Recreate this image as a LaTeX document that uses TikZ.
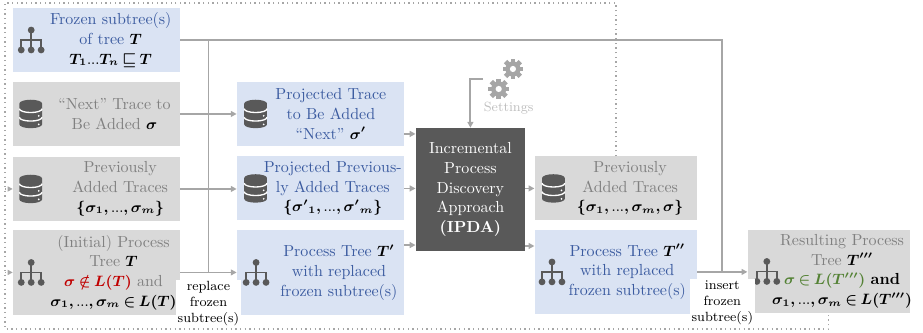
\documentclass[tikz,border=0pt]{standalone}
\usepackage{amsmath,bm}
\usetikzlibrary{arrows.meta,calc}

\definecolor{boxblue}{HTML}{DAE3F3}
\definecolor{txtblue}{HTML}{3B5BA0}
\definecolor{boxgray}{HTML}{D9D9D9}
\definecolor{txtgray}{HTML}{808080}
\definecolor{icongray}{HTML}{595959}
\definecolor{linegray}{HTML}{A6A6A6}
\definecolor{setgray}{HTML}{BFBFBF}
\definecolor{darkred}{HTML}{C00000}
\definecolor{darkgreen}{HTML}{548235}

\newcommand{\clrmath}[2]{{\color{#1}\fontsize{8.7pt}{11.8pt}\selectfont$\thinmuskip=3mu\medmuskip=3mu\thickmuskip=4mu\bm{#2}$}}
\newcommand{\blkmath}[1]{\clrmath{black}{#1}}
\newcommand{\sdots}{{\scriptstyle\ldots}}
\newcommand{\boxfont}{\fontsize{9.6pt}{11.8pt}\selectfont}

\tikzset{
	box/.style={rectangle, inner sep=0pt, minimum width=3.52cm, minimum height=1.35cm},
	bluebox/.style={box, fill=boxblue},
	graybox/.style={box, fill=boxgray},
	btxt/.style={align=center, text=txtblue, inner sep=0pt, font=\boxfont},
	gtxt/.style={align=center, text=txtgray, inner sep=0pt, font=\boxfont},
	conn/.style={draw=linegray, line width=1.1pt},
	arr/.style={conn, -{Triangle[length=3.5pt,width=3.5pt]}},
	dotconn/.style={draw=linegray, line width=0.8pt, dotted},
	dotarr/.style={dotconn, -{Triangle[length=3pt,width=3pt]}},
	lbl/.style={font=\footnotesize, align=center, fill=white, inner sep=1pt},
	treeicon/.pic={
		\draw[icongray, line width=0.9pt] (0,0.21) -- (0,-0.21) (-0.21,-0.21) -- (-0.21,0) -- (0.21,0) -- (0.21,-0.21);
		\fill[icongray] (0,0.21) circle (0.072) (-0.21,-0.21) circle (0.072) (0,-0.21) circle (0.072) (0.21,-0.21) circle (0.072);
	},
	dbicon/.pic={
		\fill[icongray] (-0.24,0.22) -- (-0.24,-0.22) arc[start angle=180, end angle=360, x radius=0.24, y radius=0.08]
			-- (0.24,0.22) arc[start angle=0, end angle=180, x radius=0.24, y radius=0.08] -- cycle;
		\draw[white, line width=0.8pt] (-0.24,0.11) arc[start angle=180, end angle=360, x radius=0.24, y radius=0.08]
			(-0.24,-0.07) arc[start angle=180, end angle=360, x radius=0.24, y radius=0.08];
		\fill[white] (0.17,-0.04) circle (0.02) (0.17,-0.22) circle (0.02);
	},
	gear/.pic={
		\fill[linegray] (0,0) circle (0.16);
		\foreach \a in {0,45,...,315}
			\fill[linegray, rotate=\a] (-0.05,0.1) rectangle (0.05,0.22);
		\fill[white] (0,0) circle (0.065);
	}
}

\begin{document}
\begin{tikzpicture}
	\useasboundingbox (0,0) rectangle (19.47,-7.02);

	\node[bluebox]							(frozen)	at (2.035,-0.844)	{};
	\node[graybox]							(next)		at (2.035,-2.404)	{};
	\node[graybox]							(prevL)		at (2.035,-3.986)	{};
	\node[graybox, minimum height=1.79cm]	(init)		at (2.035,-5.747)	{};
	\node[bluebox]							(projT)		at (6.759,-2.404)	{};
	\node[bluebox]							(projP)		at (6.759,-3.975)	{};
	\node[bluebox, minimum height=1.79cm]	(treeP)		at (6.759,-5.747)	{};
	\node[box, fill=icongray, minimum width=2.30cm, minimum height=2.59cm]	(ipda)	at (9.923,-3.997)	{};
	\node[graybox, minimum width=3.42cm]	(prevR)		at (12.991,-3.975)	{};
	\node[bluebox, minimum width=3.42cm, minimum height=1.77cm]	(treePP)	at (12.991,-5.736)	{};
	\node[graybox, minimum width=3.42cm, minimum height=1.75cm]	(result)	at (17.483,-5.726)	{};

	\pic at ([xshift=0.39cm]frozen.west)	{treeicon};
	\pic at ([xshift=0.38cm]next.west)		{dbicon};
	\pic at ([xshift=0.38cm]prevL.west)		{dbicon};
	\pic at ([xshift=0.39cm]init.west)		{treeicon};
	\pic at ([xshift=0.40cm]projT.west)		{dbicon};
	\pic at ([xshift=0.40cm]projP.west)		{dbicon};
	\pic at ([xshift=0.41cm]treeP.west)		{treeicon};
	\pic at ([xshift=0.40cm]prevR.west)		{dbicon};
	\pic at ([xshift=0.37cm]treePP.west)	{treeicon};
	\pic at ([xshift=0.41cm]result.west)	{treeicon};

	\node[btxt]	(frozen-txt)	at ([xshift=0.30cm]frozen.center)	{Frozen subtree(s)\\of tree \blkmath{T}\\\blkmath{T_1 \sdots T_n \sqsubseteq T}};
	\node[gtxt]	(next-txt)		at ([xshift=0.38cm]next.center)		{``Next'' Trace to\\Be Added \blkmath{\sigma}};
	\node[gtxt]	(prevL-txt)		at ([xshift=0.50cm]prevL.center)	{Previously\\Added Traces\\\blkmath{\{\sigma_1, \sdots, \sigma_m\}}};
	\node[gtxt]	(init-txt)		at ([xshift=0.36cm]init.center)		{(Initial) Process\\Tree \blkmath{T}\\\clrmath{darkred}{\sigma \notin L(T)} and\\\blkmath{\sigma_1, \sdots, \sigma_m \in L(T)}};
	\node[btxt]	(projT-txt)		at ([xshift=0.22cm]projT.center)	{Projected Trace\\to Be Added\\``Next'' \blkmath{\sigma'}};
	\node[btxt]	(projP-txt)		at ([xshift=0.26cm]projP.center)	{Projected Previous-\\ly Added Traces\\\blkmath{\{{\sigma'}_1, \sdots, {\sigma'}_m\}}};
	\node[btxt]	(treeP-txt)		at ([xshift=0.39cm]treeP.center)	{Process Tree \blkmath{T'}\\with replaced\\frozen subtree(s)};
	\node[align=center, text=white, inner sep=0pt, font=\boxfont]	(ipda-txt)	at (ipda.center)	{Incremental\\Process\\Discovery\\Approach\\\textbf{(IPDA)}};
	\node[gtxt]	(prevR-txt)		at ([xshift=0.30cm]prevR.center)	{Previously\\Added Traces\\\blkmath{\{\sigma_1, \sdots, \sigma_m, \sigma\}}};
	\node[btxt]	(treePP-txt)	at ([xshift=0.24cm]treePP.center)	{Process Tree \blkmath{T''}\\with replaced\\frozen subtree(s)};
	\node[gtxt]	(result-txt)	at ([xshift=0.28cm]result.center)	{Resulting Process\\Tree \blkmath{T'''}\\\clrmath{darkgreen}{\sigma \in L(T''')} {\color{black}\textbf{and}}\\\blkmath{\sigma_1, \sdots, \sigma_m \in L(T''')}};

	\coordinate (rep)	at ($(init.east)!0.5!(treeP.west)$);
	\coordinate (ins)	at ($(treePP.east)!0.5!(result.west)$);
	\coordinate (dot-tl)	at (0.105,-0.063);
	\coordinate (dot-bl)	at (0.105,-6.94);

	\draw[dotconn]	(prevR.north) |- (dot-tl) -- (dot-bl) -| (result.south);
	\draw[dotarr]	(dot-tl |- prevL.west) -- (prevL.west);
	\draw[dotarr]	(dot-tl |- init.west) -- (init.west);

	\draw[conn]	(frozen.east) -| (rep);
	\draw[conn]	(frozen.east) -| (ins);
	\draw[arr]	(next) -- (projT);
	\draw[arr]	(prevL.east) -- (prevL.east -| projP.west);
	\draw[arr]	(init) -- (treeP);

	\coordinate (ipda-in1)	at ([yshift=-0.13cm]ipda.north west);
	\coordinate (ipda-in3)	at ([yshift=0.13cm]ipda.south west);
	\coordinate (ipda-out2)	at ([yshift=0.11cm]ipda.south east);
	\draw[arr]	(projT.east |- ipda-in1) -- (ipda-in1);
	\draw[arr]	(projP.east) -- (projP.east -| ipda.west);
	\draw[arr]	(treeP.east |- ipda-in3) -- (ipda-in3);
	\draw[arr]	(ipda.east |- prevR.west) -- (prevR.west);
	\draw[arr]	(ipda-out2) -- (ipda-out2 -| treePP.west);
	\draw[arr]	(treePP.east) -- (treePP.east -| result.west);

	\pic at (10.82,-1.455)	{gear};
	\pic at (10.52,-1.877)	{gear};
	\node[text=setgray, font=\footnotesize, inner sep=0pt]	(settings)	at (10.73,-2.278)	{Settings};
	\coordinate (set-out)	at (10.19,-1.666);
	\draw[arr]	(set-out) -| (ipda.north);

	\node[lbl, anchor=north]	(rep-lbl)	at ([yshift=-0.15cm]rep)	{replace\\frozen\\subtree(s)};
	\node[lbl, anchor=north]	(ins-lbl)	at ([yshift=-0.15cm]ins)	{insert\\frozen\\subtree(s)};
\end{tikzpicture}
\end{document}
